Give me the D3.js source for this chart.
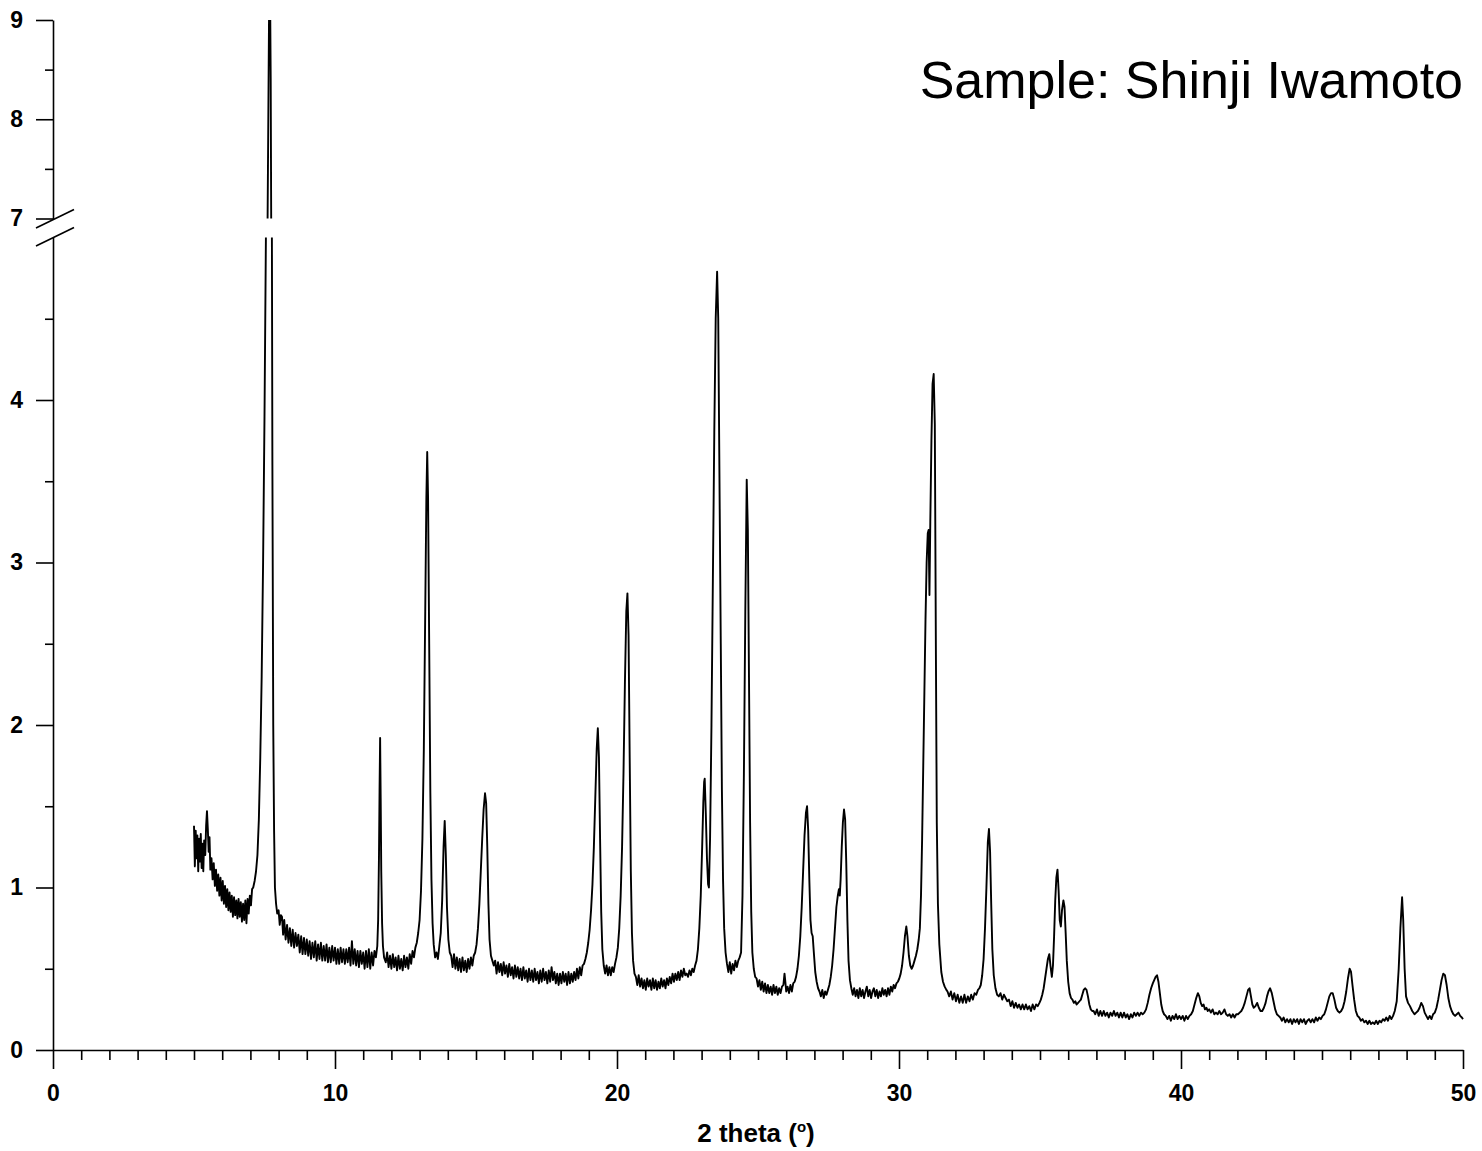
<!DOCTYPE html>
<html><head><meta charset="utf-8">
<script src="https://cdn.jsdelivr.net/npm/d3@7"></script>
<style>body{margin:0;background:#fff} svg{display:block}</style>
</head><body><svg id="chart" width="1482" height="1151"></svg>
<script>
const xDomain = [0, 50];
const yLowerDomain = [0, 5];
const yUpperDomain = [7, 9];
const xMajorTicks = [0, 10, 20, 30, 40, 50];
const xMinorTicks = [1,2,3,4,5,6,7,8,9,11,12,13,14,15,16,17,18,19,21,22,23,24,25,26,27,28,29,31,32,33,34,35,36,37,38,39,41,42,43,44,45,46,47,48,49];
const yLowerMajorTicks = [0, 1, 2, 3, 4];
const yLowerMinorTicks = [0.5, 1.5, 2.5, 3.5, 4.5];
const yUpperMajorTicks = [7, 8, 9];
const yUpperMinorTicks = [7.5, 8.5];
const sampleTitle = "Sample: Shinji Iwamoto";
const xTitleParts = ["2 theta (", "o", ")"];

// [2theta, intensity]
const pattern = [
[5.00,1.38],[5.03,1.13],[5.06,1.35],[5.09,1.18],[5.12,1.32],[5.15,1.10],[5.18,1.30],[5.21,1.16],[5.24,1.33],[5.27,1.12],
[5.30,1.27],[5.33,1.10],[5.36,1.29],[5.40,1.20],[5.43,1.38],[5.46,1.47],[5.49,1.36],[5.52,1.22],[5.55,1.31],[5.58,1.11],
[5.62,1.18],[5.66,1.05],[5.70,1.15],[5.74,1.01],[5.78,1.11],[5.82,0.98],[5.86,1.08],[5.90,0.95],[5.94,1.06],[5.98,0.92],
[6.02,1.04],[6.06,0.90],[6.10,1.01],[6.14,0.88],[6.18,0.99],[6.22,0.86],[6.26,0.97],[6.30,0.85],[6.34,0.95],[6.38,0.82],
[6.42,0.94],[6.46,0.83],[6.50,0.92],[6.54,0.81],[6.58,0.93],[6.62,0.82],[6.66,0.91],[6.70,0.79],[6.74,0.90],[6.78,0.80],
[6.82,0.92],[6.86,0.78],[6.90,0.93],[6.94,0.84],[6.98,0.95],[7.02,0.89],[7.06,0.99],[7.10,1.00],[7.15,1.04],[7.20,1.10],
[7.25,1.20],[7.30,1.42],[7.35,1.80],[7.40,2.30],[7.45,3.00],[7.50,3.90],[7.55,5.00],[7.60,6.60],[7.63,7.80],[7.66,9.00],
[7.69,9.60],[7.72,8.40],[7.75,6.00],[7.78,3.60],[7.81,2.00],[7.84,1.35],[7.87,1.00],[7.91,0.90],[7.95,0.84],[8.00,0.86],
[8.04,0.77],[8.08,0.83],[8.12,0.82],[8.16,0.71],[8.20,0.80],[8.25,0.68],[8.30,0.77],[8.35,0.66],[8.40,0.75],[8.45,0.64],
[8.50,0.74],[8.55,0.63],[8.60,0.72],[8.65,0.64],[8.70,0.71],[8.75,0.60],[8.80,0.70],[8.85,0.59],[8.90,0.69],[8.95,0.59],
[9.00,0.68],[9.05,0.58],[9.10,0.67],[9.15,0.56],[9.20,0.66],[9.25,0.57],[9.30,0.67],[9.35,0.55],[9.40,0.65],[9.45,0.56],
[9.50,0.66],[9.55,0.55],[9.60,0.64],[9.65,0.55],[9.70,0.65],[9.75,0.54],[9.80,0.63],[9.85,0.54],[9.90,0.64],[9.95,0.55],
[10.00,0.63],[10.05,0.53],[10.10,0.62],[10.15,0.53],[10.20,0.63],[10.25,0.54],[10.30,0.62],[10.35,0.53],[10.40,0.62],[10.45,0.54],
[10.50,0.63],[10.55,0.52],[10.60,0.67],[10.65,0.53],[10.70,0.62],[10.75,0.52],[10.80,0.61],[10.85,0.51],[10.90,0.61],[10.95,0.53],
[11.00,0.60],[11.05,0.50],[11.10,0.61],[11.15,0.51],[11.20,0.62],[11.25,0.50],[11.30,0.60],[11.35,0.52],[11.40,0.61],[11.45,0.57],
[11.50,0.64],[11.53,0.80],[11.56,1.20],[11.58,1.60],[11.60,1.92],[11.62,1.55],[11.64,1.10],[11.67,0.78],[11.70,0.64],[11.74,0.57],
[11.80,0.54],[11.85,0.60],[11.90,0.51],[11.95,0.58],[12.00,0.50],[12.05,0.59],[12.10,0.51],[12.15,0.57],[12.20,0.49],[12.25,0.58],
[12.30,0.50],[12.35,0.56],[12.40,0.49],[12.45,0.58],[12.50,0.51],[12.55,0.57],[12.60,0.50],[12.65,0.59],[12.70,0.53],[12.75,0.61],
[12.80,0.57],[12.85,0.63],[12.90,0.66],[12.95,0.72],[13.00,0.80],[13.05,0.98],[13.10,1.30],[13.15,1.85],[13.20,2.70],[13.24,3.40],
[13.27,3.68],[13.30,3.40],[13.34,2.50],[13.38,1.60],[13.42,1.05],[13.46,0.78],[13.50,0.65],[13.55,0.57],[13.60,0.60],[13.65,0.56],
[13.70,0.64],[13.75,0.72],[13.80,0.92],[13.85,1.25],[13.89,1.41],[13.93,1.20],[13.97,0.88],[14.02,0.68],[14.07,0.60],[14.12,0.58],
[14.17,0.51],[14.22,0.59],[14.27,0.50],[14.32,0.57],[14.37,0.49],[14.42,0.56],[14.47,0.48],[14.52,0.57],[14.57,0.49],[14.62,0.55],
[14.67,0.48],[14.72,0.56],[14.77,0.50],[14.82,0.57],[14.87,0.52],[14.92,0.58],[14.97,0.60],[15.02,0.65],[15.07,0.75],[15.12,0.90],
[15.17,1.10],[15.22,1.30],[15.27,1.48],[15.32,1.58],[15.36,1.52],[15.40,1.25],[15.44,0.90],[15.48,0.68],[15.53,0.58],[15.58,0.55],
[15.63,0.52],[15.68,0.55],[15.73,0.47],[15.78,0.54],[15.83,0.48],[15.88,0.53],[15.93,0.46],[15.98,0.54],[16.03,0.47],[16.08,0.52],
[16.13,0.45],[16.18,0.53],[16.23,0.46],[16.28,0.51],[16.33,0.44],[16.38,0.52],[16.43,0.45],[16.48,0.51],[16.53,0.44],[16.58,0.50],
[16.63,0.43],[16.68,0.51],[16.73,0.44],[16.78,0.49],[16.83,0.42],[16.88,0.50],[16.93,0.43],[16.98,0.49],[17.03,0.42],[17.08,0.50],
[17.13,0.43],[17.18,0.48],[17.23,0.41],[17.28,0.49],[17.33,0.42],[17.38,0.50],[17.43,0.43],[17.48,0.48],[17.53,0.41],[17.58,0.49],
[17.63,0.42],[17.68,0.51],[17.73,0.43],[17.78,0.48],[17.83,0.41],[17.88,0.47],[17.93,0.40],[17.98,0.47],[18.03,0.41],[18.08,0.48],
[18.13,0.42],[18.18,0.47],[18.23,0.40],[18.28,0.48],[18.33,0.41],[18.38,0.47],[18.43,0.42],[18.48,0.48],[18.53,0.43],[18.58,0.50],
[18.63,0.44],[18.68,0.51],[18.73,0.46],[18.78,0.52],[18.83,0.53],[18.88,0.56],[18.93,0.60],[18.98,0.66],[19.03,0.74],[19.08,0.86],
[19.13,1.02],[19.18,1.25],[19.23,1.55],[19.28,1.85],[19.32,1.98],[19.36,1.80],[19.40,1.30],[19.44,0.85],[19.48,0.62],[19.53,0.52],
[19.58,0.47],[19.63,0.52],[19.68,0.46],[19.73,0.51],[19.78,0.46],[19.83,0.51],[19.88,0.48],[19.93,0.53],[19.98,0.57],[20.03,0.63],
[20.08,0.75],[20.13,0.95],[20.18,1.25],[20.23,1.70],[20.28,2.25],[20.33,2.70],[20.37,2.81],[20.41,2.55],[20.45,1.80],[20.49,1.10],
[20.53,0.72],[20.57,0.55],[20.62,0.47],[20.67,0.45],[20.72,0.40],[20.77,0.46],[20.82,0.39],[20.87,0.44],[20.92,0.38],[20.97,0.43],
[21.02,0.37],[21.07,0.44],[21.12,0.39],[21.17,0.43],[21.22,0.37],[21.27,0.44],[21.32,0.38],[21.37,0.43],[21.42,0.37],[21.47,0.42],
[21.52,0.38],[21.57,0.44],[21.62,0.39],[21.67,0.43],[21.72,0.38],[21.77,0.44],[21.82,0.40],[21.87,0.45],[21.92,0.41],[21.97,0.47],
[22.02,0.42],[22.07,0.47],[22.12,0.43],[22.17,0.48],[22.22,0.43],[22.27,0.49],[22.32,0.45],[22.37,0.50],[22.42,0.46],[22.47,0.47],
[22.52,0.45],[22.57,0.49],[22.62,0.46],[22.67,0.50],[22.72,0.48],[22.77,0.52],[22.82,0.55],[22.87,0.62],[22.92,0.75],[22.97,0.95],
[23.02,1.25],[23.06,1.52],[23.09,1.65],[23.11,1.67],[23.15,1.45],[23.19,1.18],[23.23,1.02],[23.26,1.00],[23.30,1.30],[23.35,2.00],
[23.40,2.90],[23.45,3.80],[23.50,4.50],[23.55,4.79],[23.59,4.50],[23.63,3.60],[23.68,2.50],[23.72,1.60],[23.76,1.05],[23.80,0.75],
[23.85,0.60],[23.90,0.53],[23.95,0.48],[24.00,0.54],[24.05,0.47],[24.10,0.53],[24.15,0.49],[24.20,0.55],[24.25,0.51],[24.30,0.55],
[24.35,0.57],[24.40,0.60],[24.45,0.95],[24.50,1.70],[24.55,2.70],[24.60,3.51],[24.64,3.20],[24.68,2.30],[24.72,1.40],[24.76,0.85],
[24.80,0.60],[24.85,0.50],[24.90,0.45],[24.95,0.44],[25.00,0.39],[25.05,0.43],[25.10,0.37],[25.15,0.42],[25.20,0.36],[25.25,0.41],
[25.30,0.35],[25.35,0.40],[25.40,0.35],[25.45,0.39],[25.50,0.34],[25.55,0.40],[25.60,0.35],[25.65,0.39],[25.70,0.34],[25.75,0.38],
[25.80,0.35],[25.85,0.39],[25.90,0.40],[25.94,0.47],[25.97,0.42],[26.00,0.36],[26.05,0.39],[26.10,0.35],[26.15,0.40],[26.20,0.36],
[26.25,0.41],[26.30,0.42],[26.35,0.45],[26.40,0.50],[26.45,0.58],[26.50,0.70],[26.55,0.88],[26.60,1.10],[26.65,1.32],[26.70,1.46],
[26.74,1.50],[26.78,1.35],[26.82,1.05],[26.86,0.80],[26.90,0.72],[26.94,0.70],[26.98,0.60],[27.03,0.48],[27.08,0.42],[27.13,0.38],
[27.18,0.36],[27.23,0.33],[27.28,0.37],[27.33,0.32],[27.38,0.36],[27.43,0.34],[27.48,0.37],[27.53,0.40],[27.58,0.45],[27.63,0.52],
[27.68,0.62],[27.73,0.75],[27.78,0.88],[27.83,0.95],[27.87,0.99],[27.90,0.95],[27.93,1.05],[27.97,1.25],[28.01,1.40],[28.05,1.48],
[28.09,1.42],[28.13,1.15],[28.17,0.80],[28.21,0.55],[28.26,0.43],[28.31,0.38],[28.36,0.34],[28.41,0.38],[28.46,0.33],[28.51,0.37],
[28.56,0.32],[28.61,0.38],[28.66,0.33],[28.71,0.37],[28.76,0.32],[28.81,0.36],[28.86,0.39],[28.91,0.33],[28.96,0.37],[29.01,0.32],
[29.06,0.36],[29.11,0.38],[29.16,0.33],[29.21,0.37],[29.26,0.32],[29.31,0.36],[29.36,0.33],[29.41,0.38],[29.46,0.34],[29.51,0.37],
[29.56,0.33],[29.61,0.38],[29.66,0.34],[29.71,0.39],[29.76,0.36],[29.81,0.40],[29.86,0.38],[29.91,0.41],[29.96,0.42],[30.01,0.44],
[30.06,0.47],[30.11,0.52],[30.16,0.60],[30.21,0.70],[30.26,0.76],[30.30,0.70],[30.35,0.58],[30.40,0.52],[30.45,0.50],[30.50,0.52],
[30.55,0.55],[30.60,0.58],[30.65,0.62],[30.70,0.68],[30.74,0.75],[30.78,0.95],[30.82,1.30],[30.86,1.75],[30.90,2.20],[30.94,2.65],
[30.98,3.00],[31.02,3.18],[31.05,3.20],[31.08,2.80],[31.11,3.25],[31.15,3.75],[31.19,4.10],[31.23,4.16],[31.27,3.85],[31.31,2.40],
[31.34,1.40],[31.38,0.90],[31.43,0.65],[31.50,0.48],[31.56,0.42],[31.62,0.39],[31.68,0.37],[31.72,0.36],[31.78,0.33],[31.84,0.36],
[31.90,0.31],[31.96,0.35],[32.02,0.30],[32.08,0.34],[32.14,0.29],[32.20,0.33],[32.26,0.29],[32.32,0.34],[32.38,0.29],[32.44,0.33],
[32.50,0.30],[32.56,0.34],[32.62,0.31],[32.68,0.35],[32.74,0.34],[32.80,0.37],[32.85,0.38],[32.90,0.40],[32.95,0.46],[33.00,0.56],
[33.05,0.75],[33.10,1.00],[33.15,1.28],[33.19,1.36],[33.23,1.22],[33.27,0.90],[33.31,0.62],[33.36,0.46],[33.42,0.38],[33.48,0.34],
[33.54,0.33],[33.60,0.35],[33.66,0.31],[33.72,0.34],[33.78,0.32],[33.84,0.30],[33.90,0.31],[33.96,0.27],[34.02,0.30],[34.08,0.26],
[34.14,0.29],[34.20,0.26],[34.26,0.28],[34.32,0.25],[34.38,0.28],[34.44,0.25],[34.50,0.28],[34.56,0.25],[34.62,0.27],[34.68,0.24],
[34.74,0.28],[34.80,0.25],[34.86,0.28],[34.92,0.27],[34.98,0.29],[35.03,0.31],[35.08,0.34],[35.13,0.38],[35.18,0.44],[35.23,0.50],
[35.28,0.56],[35.33,0.59],[35.37,0.52],[35.42,0.45],[35.46,0.52],[35.50,0.70],[35.54,0.92],[35.58,1.06],[35.62,1.11],[35.66,0.98],
[35.70,0.80],[35.74,0.76],[35.78,0.86],[35.83,0.92],[35.87,0.88],[35.91,0.72],[35.95,0.55],[36.00,0.42],[36.05,0.35],[36.10,0.32],
[36.15,0.31],[36.20,0.29],[36.25,0.30],[36.30,0.28],[36.35,0.29],[36.40,0.30],[36.45,0.31],[36.50,0.34],[36.55,0.37],[36.60,0.38],
[36.65,0.37],[36.70,0.33],[36.75,0.28],[36.80,0.25],[36.85,0.24],[36.90,0.24],[36.96,0.22],[37.02,0.25],[37.08,0.21],[37.14,0.24],
[37.20,0.21],[37.26,0.24],[37.32,0.21],[37.38,0.23],[37.44,0.20],[37.50,0.23],[37.56,0.21],[37.62,0.24],[37.68,0.21],[37.74,0.23],
[37.80,0.20],[37.86,0.23],[37.92,0.20],[37.98,0.23],[38.04,0.20],[38.10,0.22],[38.16,0.19],[38.22,0.22],[38.28,0.20],[38.34,0.23],
[38.40,0.21],[38.46,0.23],[38.52,0.21],[38.58,0.23],[38.64,0.22],[38.70,0.23],[38.76,0.25],[38.82,0.29],[38.88,0.34],[38.94,0.38],
[39.00,0.41],[39.05,0.43],[39.10,0.45],[39.15,0.46],[39.20,0.42],[39.25,0.35],[39.30,0.28],[39.35,0.24],[39.40,0.22],[39.46,0.21],
[39.52,0.19],[39.58,0.21],[39.64,0.18],[39.70,0.21],[39.76,0.19],[39.82,0.22],[39.88,0.19],[39.94,0.21],[40.00,0.19],[40.06,0.21],
[40.12,0.18],[40.18,0.21],[40.24,0.19],[40.30,0.21],[40.36,0.22],[40.42,0.24],[40.48,0.28],[40.54,0.32],[40.60,0.35],[40.65,0.33],
[40.70,0.29],[40.75,0.27],[40.80,0.28],[40.85,0.25],[40.90,0.26],[40.95,0.24],[41.00,0.25],[41.06,0.23],[41.12,0.25],[41.18,0.22],
[41.24,0.23],[41.30,0.22],[41.36,0.24],[41.42,0.22],[41.48,0.23],[41.54,0.25],[41.60,0.22],[41.66,0.21],[41.72,0.22],[41.78,0.20],
[41.84,0.22],[41.90,0.20],[41.96,0.22],[42.02,0.22],[42.08,0.23],[42.14,0.24],[42.20,0.26],[42.26,0.29],[42.32,0.33],[42.38,0.37],
[42.43,0.38],[42.48,0.33],[42.53,0.28],[42.58,0.26],[42.64,0.27],[42.70,0.29],[42.76,0.26],[42.82,0.24],[42.88,0.24],[42.94,0.26],
[43.00,0.29],[43.05,0.33],[43.10,0.36],[43.16,0.38],[43.22,0.35],[43.28,0.30],[43.34,0.25],[43.40,0.22],[43.46,0.21],[43.52,0.20],
[43.58,0.18],[43.64,0.20],[43.70,0.17],[43.76,0.19],[43.82,0.17],[43.88,0.19],[43.94,0.16],[44.00,0.19],[44.06,0.17],[44.12,0.19],
[44.18,0.16],[44.24,0.19],[44.30,0.17],[44.36,0.19],[44.42,0.16],[44.48,0.18],[44.54,0.19],[44.60,0.17],[44.66,0.19],[44.72,0.17],
[44.78,0.20],[44.84,0.18],[44.90,0.20],[44.96,0.19],[45.02,0.21],[45.08,0.22],[45.14,0.25],[45.20,0.29],[45.26,0.33],[45.32,0.35],
[45.38,0.35],[45.44,0.31],[45.50,0.26],[45.56,0.24],[45.62,0.23],[45.68,0.24],[45.74,0.26],[45.80,0.30],[45.86,0.36],[45.92,0.44],
[45.98,0.50],[46.03,0.48],[46.08,0.40],[46.14,0.31],[46.20,0.24],[46.26,0.21],[46.32,0.20],[46.38,0.18],[46.44,0.19],[46.50,0.17],
[46.56,0.18],[46.62,0.16],[46.68,0.18],[46.74,0.16],[46.80,0.17],[46.86,0.16],[46.92,0.18],[46.98,0.16],[47.04,0.18],[47.10,0.17],
[47.16,0.19],[47.22,0.18],[47.28,0.20],[47.34,0.18],[47.40,0.21],[47.46,0.19],[47.52,0.21],[47.58,0.24],[47.65,0.30],[47.72,0.50],
[47.78,0.75],[47.84,0.94],[47.88,0.80],[47.93,0.50],[47.98,0.33],[48.05,0.29],[48.12,0.27],[48.20,0.24],[48.28,0.22],[48.34,0.23],
[48.40,0.24],[48.46,0.26],[48.52,0.29],[48.58,0.27],[48.64,0.23],[48.70,0.21],[48.76,0.19],[48.82,0.21],[48.88,0.19],[48.94,0.22],
[49.00,0.23],[49.06,0.26],[49.12,0.31],[49.18,0.37],[49.24,0.43],[49.30,0.47],[49.36,0.46],[49.42,0.40],[49.48,0.32],[49.54,0.27],
[49.60,0.24],[49.66,0.22],[49.72,0.21],[49.78,0.22],[49.84,0.23],[49.90,0.21],[49.96,0.20],[50.00,0.19]
];

const svg = d3.select("#chart");
const FONT = "'Liberation Sans', Arial, Helvetica, sans-serif";

const x = d3.scaleLinear().domain(xDomain).range([53, 1463]);
const yLow = d3.scaleLinear().domain(yLowerDomain).range([1050, 237.5]);
const yUp = d3.scaleLinear().domain(yUpperDomain).range([218.5, 20]);

const defs = svg.append("defs");
defs.append("clipPath").attr("id", "clipLow").append("rect")
  .attr("x", 0).attr("y", yLow(yLowerDomain[1])).attr("width", 1482).attr("height", 1151 - yLow(yLowerDomain[1]));
defs.append("clipPath").attr("id", "clipUp").append("rect")
  .attr("x", 0).attr("y", yUp(yUpperDomain[1])).attr("width", 1482).attr("height", yUp(yUpperDomain[0]) - yUp(yUpperDomain[1]));

const lineLow = d3.line().x(d => x(d[0])).y(d => yLow(d[1]));
const lineUp = d3.line().x(d => x(d[0])).y(d => yUp(d[1]));

svg.append("path").datum(pattern).attr("clip-path", "url(#clipLow)")
  .attr("d", lineLow).attr("fill", "none").attr("stroke", "#000")
  .attr("stroke-width", 1.9).attr("stroke-linejoin", "round");
svg.append("path").datum(pattern).attr("clip-path", "url(#clipUp)")
  .attr("d", lineUp).attr("fill", "none").attr("stroke", "#000")
  .attr("stroke-width", 1.9).attr("stroke-linejoin", "round");

function styleAxis(g) {
  g.selectAll("path, line").attr("stroke", "#000").attr("stroke-width", 1.6);
  g.selectAll("text").attr("font-family", FONT).attr("font-weight", "bold")
    .attr("font-size", 23).attr("fill", "#000");
}

// x axis
svg.append("g").attr("transform", `translate(0,${yLow(0)})`)
  .call(d3.axisBottom(x).tickValues(xMajorTicks).tickSize(19).tickSizeOuter(0).tickPadding(16).tickFormat(d3.format("d")))
  .call(styleAxis);
svg.append("g").attr("transform", `translate(0,${yLow(0)})`)
  .call(d3.axisBottom(x).tickValues(xMinorTicks).tickSize(10).tickSizeOuter(0).tickFormat(""))
  .call(g => g.select(".domain").remove())
  .call(styleAxis);

// y axis lower
svg.append("g").attr("transform", `translate(${x(0)},0)`)
  .call(d3.axisLeft(yLow).tickValues(yLowerMajorTicks).tickSize(17).tickSizeOuter(0).tickPadding(13).tickFormat(d3.format("d")))
  .call(styleAxis);
svg.append("g").attr("transform", `translate(${x(0)},0)`)
  .call(d3.axisLeft(yLow).tickValues(yLowerMinorTicks).tickSize(8).tickSizeOuter(0).tickFormat(""))
  .call(g => g.select(".domain").remove())
  .call(styleAxis);

// y axis upper
svg.append("g").attr("transform", `translate(${x(0)},0)`)
  .call(d3.axisLeft(yUp).tickValues(yUpperMajorTicks).tickSize(17).tickSizeOuter(0).tickPadding(13).tickFormat(d3.format("d")))
  .call(styleAxis);
svg.append("g").attr("transform", `translate(${x(0)},0)`)
  .call(d3.axisLeft(yUp).tickValues(yUpperMinorTicks).tickSize(8).tickSizeOuter(0).tickFormat(""))
  .call(g => g.select(".domain").remove())
  .call(styleAxis);

// axis break marks
const ax = x(0);
const breakG = svg.append("g").attr("stroke", "#000").attr("stroke-width", 1.6);
breakG.append("line").attr("x1", ax - 17).attr("y1", yUp(7) + 9.5).attr("x2", ax + 21).attr("y2", yUp(7) - 9);
breakG.append("line").attr("x1", ax - 17).attr("y1", yLow(5) + 8.5).attr("x2", ax + 21).attr("y2", yLow(5) - 10);

// x axis title
const xt = svg.append("text").attr("x", 756).attr("y", 1142)
  .attr("text-anchor", "middle").attr("font-family", FONT).attr("font-weight", "bold")
  .attr("font-size", 26).attr("fill", "#000");
xt.append("tspan").text(xTitleParts[0]);
xt.append("tspan").attr("font-size", 15).attr("dy", -10).text(xTitleParts[1]);
xt.append("tspan").attr("dy", 10).text(xTitleParts[2]);

// sample title
svg.append("text").attr("x", 1463).attr("y", 98).attr("text-anchor", "end")
  .attr("font-family", FONT).attr("font-size", 52).attr("fill", "#000")
  .text(sampleTitle);
</script>
</body></html>
